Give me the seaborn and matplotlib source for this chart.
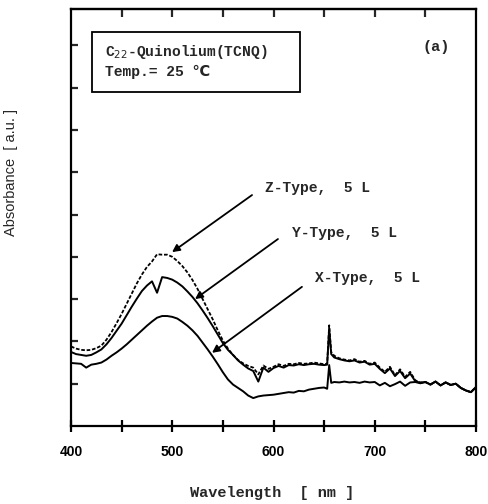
import matplotlib
matplotlib.use("Agg")
import matplotlib.pyplot as plt
import seaborn as sns
import numpy as np
from matplotlib.patches import Rectangle

# ---------------- data ----------------
wavelength = [400, 405, 410, 415, 420, 425, 430, 435, 440, 445, 450, 455, 460, 465, 470,
              475, 480, 485, 490, 495, 500, 505, 510, 515, 520, 525, 530, 535, 540, 545,
              550, 555, 560, 565, 570, 575, 580, 585, 590, 595, 600, 605, 610, 615, 620,
              625, 630, 635, 640, 645, 650, 653, 655, 657, 660, 665, 670, 675, 680, 685,
              690, 695, 700, 705, 710, 715, 720, 725, 730, 735, 740, 745, 750, 755, 760,
              765, 770, 775, 780, 785, 790, 795, 800]

z_type = [1.88, 1.83, 1.80, 1.79, 1.80, 1.84, 1.90, 2.04, 2.22, 2.43, 2.65, 2.89, 3.13, 3.37, 3.58,
          3.76, 3.89, 4.06, 4.05, 4.05, 4.00, 3.90, 3.78, 3.63, 3.45, 3.24, 3.00, 2.76, 2.52, 2.26,
          2.02, 1.83, 1.68, 1.56, 1.48, 1.42, 1.38, 1.22, 1.43, 1.35, 1.40, 1.46, 1.42, 1.47, 1.46,
          1.49, 1.47, 1.48, 1.50, 1.48, 1.46, 1.47, 2.38, 1.75, 1.66, 1.60, 1.57, 1.55, 1.58, 1.52,
          1.54, 1.47, 1.50, 1.38, 1.28, 1.40, 1.20, 1.34, 1.16, 1.28, 1.08, 1.03, 1.04, 0.98, 1.05,
          0.96, 1.03, 0.97, 1.00, 0.90, 0.84, 0.80, 0.92]

y_type = [1.75, 1.70, 1.68, 1.66, 1.68, 1.74, 1.81, 1.93, 2.08, 2.25, 2.42, 2.62, 2.82, 3.01, 3.19,
          3.32, 3.42, 3.15, 3.52, 3.50, 3.46, 3.39, 3.30, 3.18, 3.05, 2.90, 2.73, 2.55, 2.36, 2.16,
          1.96, 1.80, 1.68, 1.55, 1.45, 1.36, 1.30, 1.05, 1.38, 1.28, 1.37, 1.42, 1.38, 1.44, 1.43,
          1.46, 1.44, 1.46, 1.47, 1.45, 1.44, 1.45, 2.30, 1.70, 1.62, 1.58, 1.55, 1.53, 1.55, 1.50,
          1.52, 1.45, 1.47, 1.35, 1.25, 1.36, 1.18, 1.30, 1.13, 1.24, 1.06, 1.02, 1.04, 0.98, 1.05,
          0.96, 1.03, 0.97, 1.00, 0.90, 0.84, 0.80, 0.92]

x_type = [1.49, 1.48, 1.47, 1.38, 1.45, 1.47, 1.50, 1.57, 1.66, 1.74, 1.83, 1.93, 2.04, 2.15, 2.26,
          2.37, 2.47, 2.56, 2.60, 2.60, 2.58, 2.54, 2.46, 2.37, 2.26, 2.13, 1.97, 1.81, 1.64, 1.46,
          1.27, 1.10, 0.98, 0.90, 0.82, 0.72, 0.66, 0.70, 0.72, 0.73, 0.74, 0.76, 0.78, 0.80, 0.79,
          0.83, 0.82, 0.86, 0.88, 0.90, 0.91, 0.88, 1.44, 1.02, 1.04, 1.03, 1.05, 1.03, 1.04, 1.02,
          1.05, 1.03, 1.04, 0.96, 1.02, 0.94, 0.99, 1.05, 0.95, 1.03, 1.04, 1.01, 1.04, 0.98, 1.05,
          0.96, 1.03, 0.97, 1.00, 0.90, 0.84, 0.80, 0.92]

x_ticks = [400, 500, 600, 700, 800]
series_labels = ["Z-Type,  5 L", "Y-Type,  5 L", "X-Type,  5 L"]
box_line1 = "C$_{22}$-Quinolium(TCNQ)"
box_line2 = "Temp.= 25 \u2103"
panel_label = "(a)"
x_label = "Wavelength  [ nm ]"
y_label = "Absorbance  [ a.u. ]"

# ---------------- style ----------------
sns.set_style("ticks")
plt.rcParams['font.family'] = ['Liberation Mono', 'DejaVu Sans']
plt.rcParams['mathtext.fontset'] = 'dejavusans'

fig = plt.figure(figsize=(4.88, 5.04), dpi=100)
ax = fig.add_axes([71/488, 1-426/504, 405/488, 417/504])

wl = np.array(wavelength)
sns.lineplot(x=wl, y=np.array(x_type), ax=ax, color='black', lw=1.4, sort=False, estimator=None)
sns.lineplot(x=wl, y=np.array(y_type), ax=ax, color='black', lw=1.4, sort=False, estimator=None)
sns.lineplot(x=wl, y=np.array(z_type), ax=ax, color='black', lw=1.3, sort=False, estimator=None)
ax.lines[-1].set_dashes((2.0, 1.0))

ax.set_xlim(400, 800)
ax.set_ylim(0, 417/42.3)
major = np.arange(400, 801, 50)
ax.set_xticks(major)
ax.set_xticklabels([str(v) if v in x_ticks else "" for v in major],
                   fontfamily='Liberation Sans', fontweight='bold', fontsize=10)
ax.set_yticks(np.arange(1, 10))
ax.set_yticklabels([])

for s in ax.spines.values():
    s.set_linewidth(1.6)
    s.set_color('black')

ax.tick_params(axis='x', direction='inout', length=9, width=1.6, pad=9, colors='black')
ax.tick_params(axis='y', direction='in', length=5, width=1.6, left=True, right=False)

sec = ax.secondary_xaxis('top')
sec.set_xticks(np.arange(450, 800, 50))
sec.set_xticklabels([])
sec.tick_params(direction='in', length=6, width=1.6)
sec.spines['top'].set_linewidth(1.6)

ax.set_xlabel(x_label, fontsize=11, fontweight='bold')
ax.xaxis.set_label_coords(0.496, -0.143)
ax.set_ylabel(y_label, fontfamily='Liberation Sans', fontsize=10.5)
ax.yaxis.set_label_coords(-0.131, 0.609)

# annotation box
ax.add_patch(Rectangle((0.052, 0.801), 0.513, 0.144, transform=ax.transAxes,
                       fill=False, edgecolor='black', lw=1.3))
ax.text(0.084, 0.897, box_line1, transform=ax.transAxes, fontsize=10.5, fontweight='bold',
        va='center', ha='left')
ax.text(0.084, 0.849, box_line2, transform=ax.transAxes, fontsize=10.5, fontweight='bold',
        va='center', ha='left')
ax.text(0.901, 0.909, panel_label, transform=ax.transAxes, fontsize=11, fontweight='bold',
        va='center', ha='center')

# series labels with arrows
text_pos = [(591.6, 5.63), (618.3, 4.56), (641.0, 3.50)]
arrow_start = [(578.8, 5.46), (604.4, 4.42), (628.1, 3.29)]
arrow_end = [(499.8, 4.11), (522.5, 3.00), (539.3, 1.73)]
for lab, tp, a0, a1 in zip(series_labels, text_pos, arrow_start, arrow_end):
    ax.text(tp[0], tp[1], lab, fontsize=10.5, fontweight='bold', va='center', ha='left')
    ax.annotate("", xy=a1, xytext=a0,
                arrowprops=dict(arrowstyle='-|>', color='black', lw=1.3,
                                mutation_scale=11, shrinkA=0, shrinkB=0))

fig.savefig("out.png", dpi=100)
